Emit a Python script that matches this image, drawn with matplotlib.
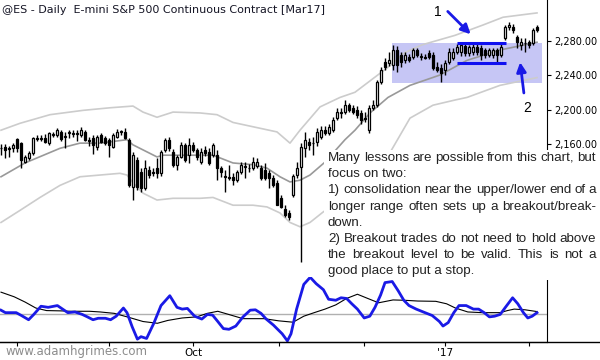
import matplotlib.pyplot as plt
from matplotlib.patches import Rectangle
from matplotlib.lines import Line2D

# daily bars, ES continuous (Mar17), late Jul 2016 -> early Feb 2017
opens = [2155, 2156, 2154, 2155, 2166, 2161, 2139, 2144, 2150, 2167,
         2166, 2167, 2161, 2171, 2170, 2174, 2168, 2173, 2173, 2172,
         2170, 2174, 2165, 2167, 2156, 2170, 2167, 2165, 2156, 2168,
         2174, 2174, 2165, 2110, 2141, 2127, 2109, 2130, 2127, 2132,
         2126, 2153, 2165, 2151, 2136, 2145, 2159, 2147, 2159, 2153,
         2139, 2153, 2151, 2147, 2147, 2132, 2123, 2122, 2122, 2118,
         2127, 2133, 2132, 2132, 2134, 2132, 2130, 2126, 2121, 2115,
         2097, 2085, 2080, 2101, 2124, 2133, 2155, 2162, 2161, 2162,
         2168, 2176, 2173, 2176, 2190, 2196, 2197, 2205, 2202, 2199,
         2196, 2190, 2176, 2202, 2205, 2232, 2255, 2254, 2252, 2269,
         2263, 2257, 2261, 2261, 2269, 2261, 2261, 2266, 2263, 2249,
         2248, 2246, 2255, 2260, 2267, 2267, 2274, 2266, 2267, 2272,
         2271, 2269, 2263, 2263, 2269, 2263, 2283, 2296, 2296, 2284,
         2275, 2277, 2278, 2277, 2296]
highs = [2160, 2160, 2158, 2161, 2167, 2162, 2147, 2152, 2168, 2170,
         2170, 2172, 2174, 2174, 2179, 2176, 2174, 2176, 2176, 2176,
         2180, 2176, 2168, 2170, 2170, 2173, 2169, 2167, 2173, 2177,
         2176, 2179, 2167, 2151, 2145, 2132, 2141, 2134, 2132, 2144,
         2153, 2167, 2168, 2154, 2147, 2162, 2161, 2167, 2162, 2155,
         2155, 2158, 2155, 2161, 2153, 2134, 2130, 2136, 2126, 2130,
         2139, 2139, 2137, 2145, 2144, 2136, 2138, 2130, 2124, 2118,
         2101, 2089, 2083, 2125, 2139, 2161, 2174, 2167, 2168, 2179,
         2181, 2181, 2183, 2191, 2202, 2202, 2211, 2208, 2205, 2204,
         2199, 2197, 2205, 2211, 2234, 2249, 2260, 2267, 2275, 2274,
         2267, 2267, 2264, 2271, 2271, 2266, 2264, 2269, 2267, 2255,
         2253, 2257, 2271, 2271, 2276, 2277, 2276, 2275, 2276, 2277,
         2275, 2271, 2271, 2271, 2271, 2276, 2298, 2301, 2299, 2286,
         2283, 2283, 2281, 2295, 2298]
lows = [2147, 2144, 2145, 2151, 2151, 2132, 2138, 2141, 2147, 2163,
        2163, 2161, 2159, 2168, 2168, 2163, 2155, 2167, 2168, 2164,
        2168, 2163, 2158, 2148, 2153, 2161, 2159, 2145, 2155, 2167,
        2170, 2166, 2110, 2095, 2107, 2104, 2107, 2121, 2123, 2121,
        2123, 2151, 2152, 2133, 2130, 2144, 2139, 2138, 2151, 2141,
        2137, 2146, 2136, 2145, 2118, 2122, 2104, 2118, 2112, 2116,
        2125, 2121, 2127, 2130, 2132, 2118, 2118, 2109, 2110, 2089,
        2086, 2075, 2072, 2098, 2121, 2023, 2145, 2153, 2147, 2158,
        2166, 2170, 2170, 2174, 2188, 2190, 2195, 2197, 2195, 2190,
        2183, 2185, 2173, 2199, 2203, 2230, 2246, 2250, 2246, 2243,
        2249, 2254, 2255, 2259, 2261, 2257, 2259, 2259, 2246, 2243,
        2232, 2240, 2253, 2257, 2264, 2262, 2262, 2262, 2263, 2263,
        2257, 2260, 2261, 2260, 2255, 2261, 2281, 2292, 2289, 2271,
        2269, 2267, 2271, 2275, 2290]
closes = [2155, 2153, 2155, 2159, 2155, 2141, 2145, 2149, 2167, 2166,
          2167, 2162, 2173, 2172, 2176, 2166, 2169, 2174, 2172, 2173,
          2176, 2165, 2164, 2159, 2168, 2162, 2161, 2159, 2170, 2174,
          2174, 2167, 2112, 2147, 2110, 2109, 2132, 2124, 2126, 2126,
          2151, 2165, 2155, 2136, 2145, 2159, 2141, 2159, 2153, 2145,
          2151, 2149, 2138, 2159, 2132, 2127, 2122, 2121, 2118, 2127,
          2136, 2134, 2132, 2139, 2139, 2121, 2121, 2121, 2112, 2089,
          2087, 2078, 2075, 2123, 2132, 2156, 2165, 2159, 2161, 2174,
          2176, 2173, 2180, 2188, 2197, 2196, 2205, 2199, 2197, 2194,
          2188, 2189, 2202, 2205, 2232, 2246, 2249, 2257, 2269, 2252,
          2255, 2263, 2257, 2269, 2263, 2261, 2260, 2261, 2248, 2246,
          2242, 2254, 2267, 2267, 2272, 2275, 2266, 2272, 2272, 2267,
          2263, 2263, 2269, 2269, 2263, 2272, 2296, 2298, 2292, 2278,
          2278, 2277, 2275, 2292, 2292]

# channel lines (bar index, price)
upper_idx = [0, 4.75, 12.25, 20.5, 27.25, 33, 35.5, 39, 43, 49.75, 54, 58, 63, 69,
             72.25, 74.75, 79.75, 84.75, 88.5, 96.75, 101, 105.25, 113.5, 120.5,
             125.5, 132.25, 134]
upper_val = [2176, 2184, 2194, 2199, 2202, 2204, 2197, 2191, 2197, 2196, 2194, 2185,
             2180, 2174, 2161, 2176, 2203, 2214, 2220, 2249, 2266, 2275, 2286, 2298,
             2307, 2311, 2312]
mid_idx = [0, 6, 14.75, 19.75, 24.75, 31.5, 33, 39, 40.5, 45.5, 53, 58, 63, 66.5,
           69.75, 72.25, 74.75, 77.25, 81, 86, 88.5, 92.25, 96.75, 102.25, 109.75,
           116.5, 124.75, 134]
mid_val = [2122, 2138, 2155, 2161, 2161, 2165, 2159, 2145, 2147, 2147, 2147, 2138,
           2136, 2132, 2122, 2116, 2118, 2124, 2139, 2165, 2176, 2196, 2214, 2228,
           2240, 2257, 2269, 2278]
lower_idx = [0, 4.75, 9.75, 14.75, 19.75, 24.75, 29.75, 31.5, 33, 35.5, 39, 43,
             49.75, 53, 58, 63, 66.5, 69.75, 72.25, 74.75, 77.25, 80.5, 84.75, 88.5,
             93, 97.25, 102.25, 108, 113.5, 116.5, 124.75, 134]
lower_val = [2069, 2083, 2098, 2112, 2122, 2124, 2126, 2124, 2115, 2103, 2095, 2097,
             2097, 2098, 2089, 2089, 2087, 2080, 2069, 2064, 2069, 2081, 2095, 2107,
             2125, 2150, 2190, 2205, 2211, 2214, 2228, 2237]

# oscillator panel (bar index, value)
osc_idx = [0, 1.1, 3.8, 5.1, 6.9, 8.2, 10.0, 11.8, 13.2, 14.1, 15.4, 16.7, 18.5,
           20.3, 21.6, 23.0, 24.3, 26.1, 27.4, 28.8, 30.6, 31.5, 32.8, 34.1, 35.0,
           36.4, 38.2, 40.0, 42.2, 44.0, 45.3, 46.6, 48.4, 50.2, 51.6, 52.9, 54.2,
           55.6, 57.0, 58.7, 60.5, 62.3, 63.6, 65.0, 66.3, 68.1, 70.3, 71.6, 72.5,
           73.9, 75.7, 77.3, 78.8, 80.6, 81.9, 83.7, 85.0, 86.4, 87.7, 89.1, 90.8,
           92.2, 93.5, 94.9, 96.0, 97.8, 99.3, 100.7, 102.0, 103.8, 106.0, 107.8,
           109.6, 110.5, 111.8, 113.2, 114.5, 116.3, 118.1, 119.4, 120.8, 122.1,
           123.4, 124.8, 126.1, 127.9, 129.2, 130.6, 131.7, 132.8, 134.0]
osc_val = [4.3, 1.8, 1.8, -1.1, -5.4, 0, 8.3, 7.2, 8.3, 9.0, 5.4, 1.8, 2.5, 0,
           -2.5, -5.4, -3.9, -3.9, -5.4, -1.8, 6.5, 1.8, -12.6, -25.1, -22.6, -24.4,
           -9.0, 9.0, 19.0, 7.2, 5.4, 6.1, -1.8, -4.7, 0, -0.7, -7.2, -14.4, -15.1,
           -11.8, -2.5, 4.3, 4.7, 1.1, -4.7, -10.8, -19.7, -26.9, -19.7, 5.4, 30.5,
           37.7, 31.2, 25.1, 15.4, 14.4, 16.9, 16.2, 10.8, 5.4, -3.6, -1.8, 7.2,
           19.7, 32.3, 33.4, 24.0, 14.4, 9.0, 5.4, 1.8, -1.1, -7.2, -11.8, -8.3, 1.8,
           9.0, 9.0, 5.4, 5.4, 1.8, -2.5, -1.8, 0, 7.2, 16.9, 10.8, 1.8, -3.6, -1.8,
           1.8]
sig_idx = [0, 3.3, 6.0, 8.7, 11.4, 15.0, 17.6, 22.1, 24.8, 28.3, 31.9, 35.5, 39.1,
           41.7, 45.3, 48.9, 51.6, 54.2, 56.9, 60.5, 65.8, 69.4, 73.0, 75.7, 78.3,
           81.0, 83.7, 86.4, 89.1, 91.7, 94.4, 98.0, 100.7, 104.2, 108.7, 111.4,
           113.6, 116.7, 120.3, 124.8, 126.6, 128.3, 131.0, 134.0]
sig_val = [22.6, 17.9, 12.6, 6.5, 3.9, 3.6, 3.2, 3.2, 2.5, 1.1, -2.9, -7.2, -9.0,
           -6.1, -3.6, -2.5, 1.1, 3.2, 0, -4.3, -4.3, -6.5, -7.9, -1.8, 1.8, 5.4,
           9.7, 16.2, 20.5, 16.2, 11.8, 14.7, 14.4, 13.6, 13.3, 10.8, 6.5, 2.5, 1.8,
           1.8, 3.9, 5.4, 4.7, 2.9]

month_ticks = [4, 27, 48, 69.5, 90.75, 111, 132]
month_labels = ['', '', 'Oct', '', '', "'17", '']
price_ticks = [2160, 2200, 2240, 2280]

note_lines = [("Many lessons are possible from this chart, but", True),
              ("focus on two:", False),
              ("1) consolidation near the upper/lower end of a", True),
              ("longer range often sets up a breakout/break-", True),
              ("down.", False),
              ("2) Breakout trades do not need to hold above", True),
              ("the breakout level to be valid. This is not a", True),
              ("good place to put a stop.", False)]

W, H = 600, 360
fig = plt.figure(figsize=(6, 3.6), dpi=100)
ax = fig.add_axes([0, 1 - 266 / H, 547 / W, 266 / H])
ax2 = fig.add_axes([0, 1 - 342 / H, 547 / W, 65 / H])

idx = list(range(len(closes)))

# shaded range + bands
ax.add_patch(Rectangle((97.75, 2231), 37.5, 46, facecolor='#c6c6f5', edgecolor='none', zorder=0.5))
ax.plot(upper_idx, upper_val, color='#cccccc', lw=1.2, zorder=1)
ax.plot(lower_idx, lower_val, color='#cccccc', lw=1.2, zorder=1)
ax.plot(mid_idx, mid_val, color='#999999', lw=1.2, zorder=1)

# candles
ax.vlines(idx, lows, highs, color='black', lw=1, zorder=2)
bottoms = [min(o, c) for o, c in zip(opens, closes)]
heights = [max(abs(c - o), 0.6) for o, c in zip(opens, closes)]
colors = ['white' if c >= o else 'black' for o, c in zip(opens, closes)]
ax.bar(idx, heights, bottom=bottoms, width=0.72, color=colors, edgecolor='black',
       linewidth=0.9, zorder=3)

# consolidation lines and arrows
ax.hlines([2277, 2254], 114, 126.25, colors='#1010f0', lw=2.2, zorder=4)
blue = '#1a1ae6'
ax.annotate('', xy=(117.9, 2285), xytext=(111.2, 2316),
            arrowprops=dict(arrowstyle='-|>', color=blue, lw=2, mutation_scale=14), zorder=5)
ax.annotate('', xy=(129.7, 2258), xytext=(130.8, 2216),
            arrowprops=dict(arrowstyle='-|>', color=blue, lw=2, mutation_scale=14), zorder=5)
ax.text(109.3, 2313, '1', ha='center', va='center', fontsize=10, family='Liberation Sans')
ax.text(131.6, 2202, '2', ha='center', va='center', fontsize=10, family='Liberation Sans')

ax.set_xlim(-0.25, 136.5)
ax.set_ylim(2018.5, 2327)
ax.yaxis.tick_right()
ax.set_yticks(price_ticks)
ax.set_yticklabels(['{:,.2f}'.format(p) for p in price_ticks])
ax.tick_params(axis='y', direction='out', length=3, labelsize=7, pad=2)
ax.set_xticks([])
for s in ['top', 'left', 'bottom']:
    ax.spines[s].set_visible(False)
ax.patch.set_alpha(0)

# oscillator panel
ax2.axhline(0, color='#b0b0b0', lw=1)
ax2.plot(sig_idx, sig_val, color='black', lw=0.8)
ax2.plot(osc_idx, osc_val, color=blue, lw=2)
ax2.set_xlim(-0.25, 136.5)
ax2.set_ylim(-28, 38)
ax2.set_yticks([])
ax2.set_xticks(month_ticks)
ax2.set_xticklabels(month_labels)
ax2.tick_params(axis='x', direction='out', length=3, labelsize=7.5, pad=1)
for s in ['top', 'left']:
    ax2.spines[s].set_visible(False)
ax2.patch.set_alpha(0)
fig.add_artist(Line2D([0, 1], [1 - 342 / H] * 2, transform=fig.transFigure, color='black', lw=1))

# text
fig.text(2 / W, 1 - 10 / H, '@ES - Daily  E-mini S&P 500 Continuous Contract [Mar17]',
         fontsize=8, va='center', color='#151525')
fig.text(5 / W, 1 - 351 / H, 'www.adamhgrimes.com', fontsize=8.5, va='center', color='#8c8c8c')

fig.add_artist(Rectangle((324 / W, 1 - 280 / H), 276 / W, 130 / H, transform=fig.transFigure,
                         facecolor='white', edgecolor='none', zorder=3))
r = fig.canvas.get_renderer()
x0, x1 = 328 / W, 596 / W
for k, (line, just) in enumerate(note_lines):
    y = 1 - (158 + 16.2 * k) / H
    kw = dict(fontsize=9.6, family='Liberation Sans', va='center', color='#222222', zorder=4)
    if not just:
        fig.text(x0, y, line, **kw)
        continue
    words = line.split()
    ts = [fig.text(0, y, w, **kw) for w in words]
    ws = [t.get_window_extent(r).width / W for t in ts]
    gap = (x1 - x0 - sum(ws)) / (len(words) - 1)
    x = x0
    for t, w in zip(ts, ws):
        t.set_x(x)
        x += w + gap

fig.savefig('out.png', dpi=100)
